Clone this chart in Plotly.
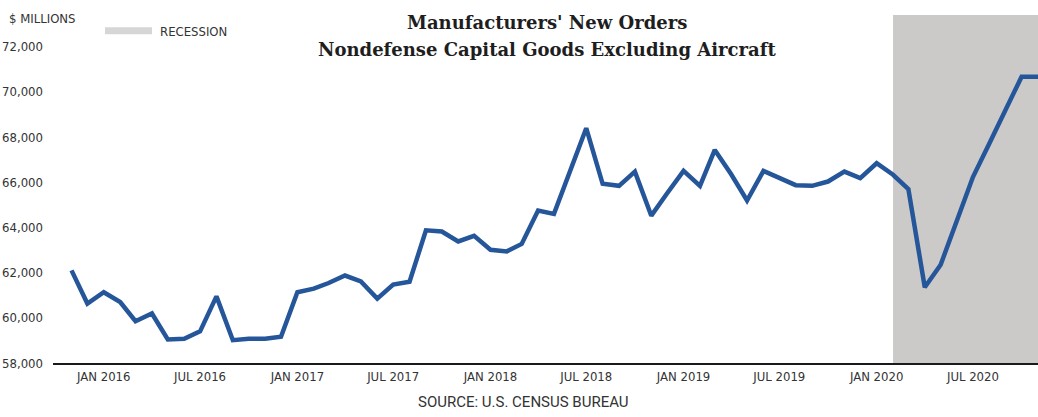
import pandas as pd
import plotly.graph_objects as go

# Monthly new orders, nondefense capital goods excluding aircraft ($ millions)
months = pd.date_range("2015-11-01", "2020-11-01", freq="MS")
orders = [
    62100, 60630,                                                    # 2015 Nov-Dec
    61130, 60700, 59850, 60190, 59040, 59070,                        # 2016
    59400, 60950, 59010, 59070, 59070, 59160,
    61130, 61290, 61540, 61870, 61610, 60850,                        # 2017
    61470, 61600, 63870, 63820, 63380, 63630,
    63010, 62940, 63270, 64750, 64600, 66500,                        # 2018
    68390, 65930, 65840, 66470, 64520, 65510,
    66500, 65840, 67430, 66350, 65190, 66500,                        # 2019
    66190, 65870, 65840, 66030, 66470, 66180,
    66840, 66330, 65690, 61350, 62350, 64380,                        # 2020
    66230, 67710, 69190, 70670, 70670,
]

tick_dates = ["2016-01-01", "2016-07-01", "2017-01-01", "2017-07-01", "2018-01-01",
              "2018-07-01", "2019-01-01", "2019-07-01", "2020-01-01", "2020-07-01"]
tick_labels = ["JAN 2016", "JUL 2016", "JAN 2017", "JUL 2017", "JAN 2018",
               "JUL 2018", "JAN 2019", "JUL 2019", "JAN 2020", "JUL 2020"]
y_ticks = [58000, 60000, 62000, 64000, 66000, 68000, 70000, 72000]

recession_start = "2020-02-01"
recession_end = "2020-11-01"

LABEL_FONT = "Liberation Sans Narrow, DejaVu Sans Condensed, sans-serif"
TITLE_FONT = "DejaVu Serif, serif"
TEXT_COLOR = "#333333"
LINE_COLOR = "#26569a"
SHADE_COLOR = "#cbcac8"

fig = go.Figure()

fig.add_trace(go.Scatter(
    x=months, y=orders, mode="lines",
    line=dict(color=LINE_COLOR, width=4.5),
    showlegend=False, hoverinfo="skip",
))

# recession shading
fig.add_shape(type="rect", xref="x", yref="paper",
              x0=recession_start, x1=recession_end, y0=0, y1=1,
              fillcolor=SHADE_COLOR, line_width=0, layer="below")

# legend swatch + label
fig.add_shape(type="rect", xref="paper", yref="paper",
              x0=0.0528, x1=0.1005, y0=0.9446, y1=0.9647,
              fillcolor="#d6d6d6", line_width=0)
fig.add_annotation(text="RECESSION", xref="paper", yref="paper",
                   x=0.1065, y=0.954, xanchor="left", yanchor="middle",
                   showarrow=False, font=dict(family=LABEL_FONT, size=13, color=TEXT_COLOR))

# units label
fig.add_annotation(text="$ MILLIONS", xref="paper", yref="paper",
                   x=-0.047, y=0.990, xanchor="left", yanchor="middle",
                   showarrow=False, font=dict(family=LABEL_FONT, size=13, color=TEXT_COLOR))

# two-line title
fig.add_annotation(text="<b>Manufacturers' New Orders</b>", xref="paper", yref="paper",
                   x=0.5015, y=0.978, xanchor="center", yanchor="middle",
                   showarrow=False, font=dict(family=TITLE_FONT, size=18, color="#1e1e1e"))
fig.add_annotation(text="<b>Nondefense Capital Goods Excluding Aircraft</b>", xref="paper", yref="paper",
                   x=0.5015, y=0.900, xanchor="center", yanchor="middle",
                   showarrow=False, font=dict(family=TITLE_FONT, size=18, color="#1e1e1e"))

# source note
fig.add_annotation(text="SOURCE: U.S. CENSUS BUREAU", xref="paper", yref="paper",
                   x=0.478, y=-0.1133, xanchor="center", yanchor="middle",
                   showarrow=False, font=dict(family="Roboto, sans-serif", size=15, color=TEXT_COLOR))

fig.update_xaxes(
    type="date", range=["2015-09-27", "2020-11-01"],
    tickvals=tick_dates, ticktext=tick_labels,
    showgrid=False, zeroline=False,
    showline=True, linecolor="#1a1a1a", linewidth=2,
    ticks="", tickfont=dict(family=LABEL_FONT, size=13, color=TEXT_COLOR),
)
fig.update_yaxes(
    range=[58000, 73400], tickvals=y_ticks, tickformat=",",
    showgrid=False, zeroline=False, showline=False,
    ticks="", ticklabelstandoff=9,
    tickfont=dict(family=LABEL_FONT, size=13, color=TEXT_COLOR),
)

fig.update_layout(
    width=1038, height=417,
    margin=dict(l=53, r=0, t=15, b=54),
    paper_bgcolor="white", plot_bgcolor="white",
    showlegend=False,
)

fig.write_html("out.html")
